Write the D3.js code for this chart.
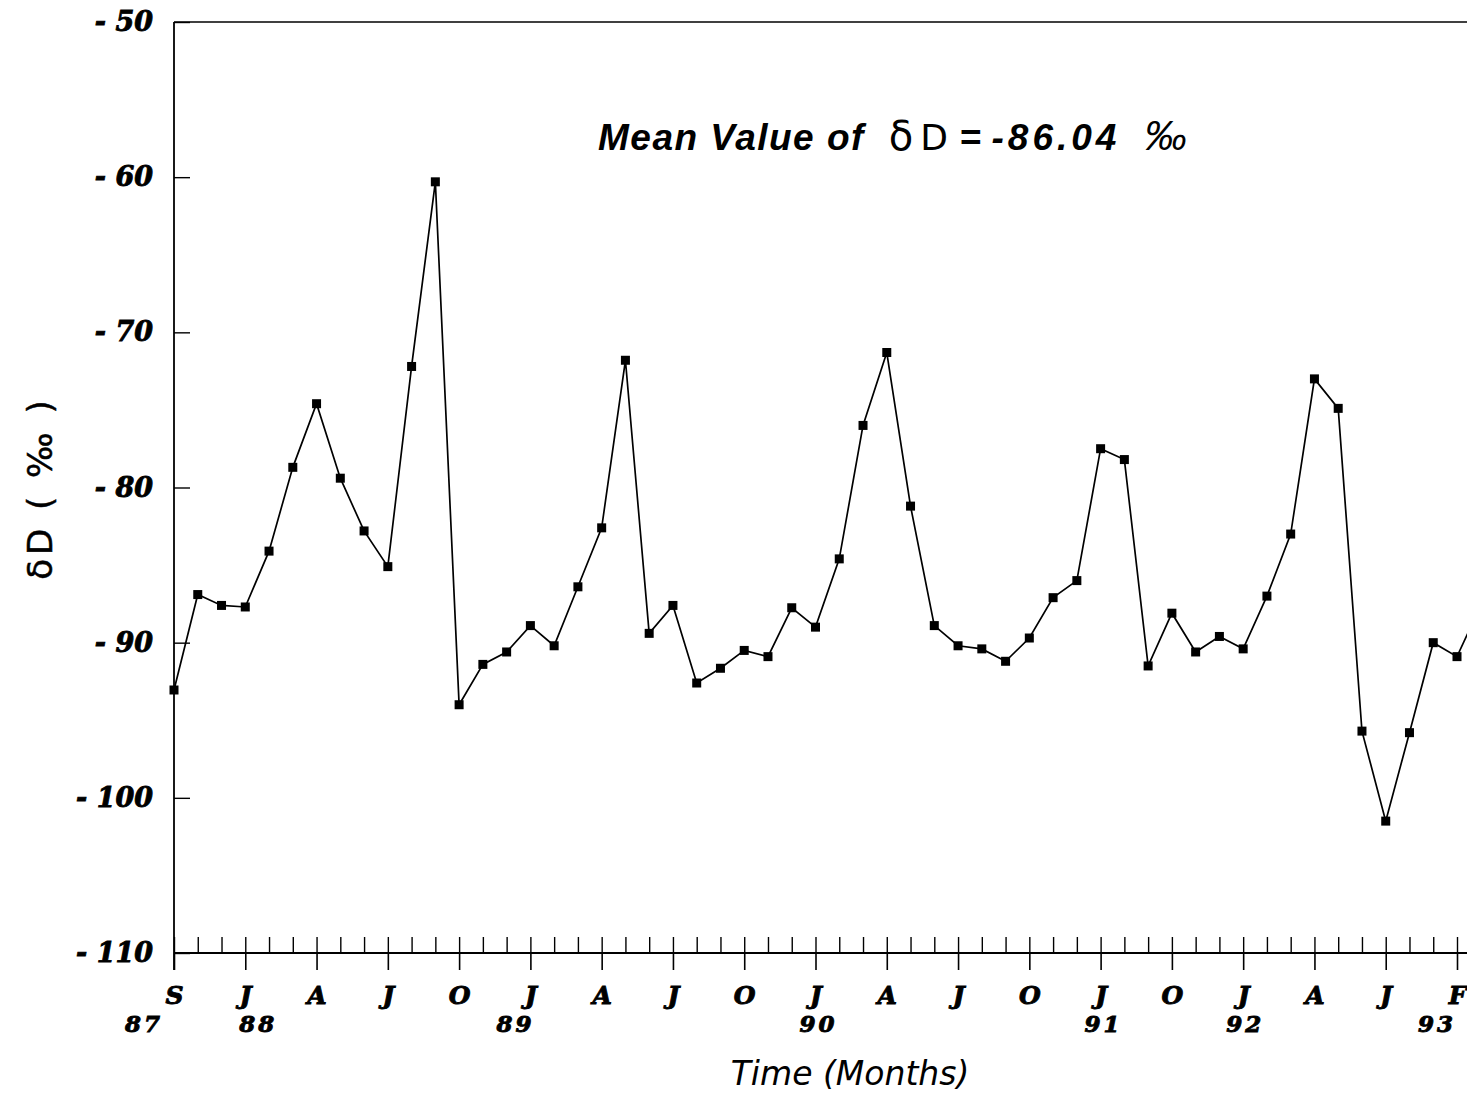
<!DOCTYPE html>
<html>
<head>
<meta charset="utf-8">
<script src="https://cdn.jsdelivr.net/npm/d3@7"></script>
<style>
  body { margin: 0; background: #fff; }
  svg { display: block; }
</style>
</head>
<body>
<svg id="chart" width="1467" height="1095"></svg>
<script>
// monthly dD values, Sep 87 .. Mar 93 (last one runs off the page)
var deltaD = [
  -93.05, -86.9, -87.6, -87.7, -84.1, -78.7, -74.6, -79.4, -82.8, -85.1,
  -72.2, -60.3, -94.0, -91.4, -90.6, -88.9, -90.2, -86.4, -82.6, -71.8,
  -89.4, -87.6, -92.6, -91.65, -90.5, -90.9, -87.75, -89.0, -84.6, -76.0,
  -71.3, -81.2, -88.9, -90.2, -90.4, -91.2, -89.7, -87.1, -86.0, -77.5,
  -78.2, -91.5, -88.1, -90.6, -89.6, -90.4, -87.0, -83.0, -73.0, -74.9,
  -95.7, -101.5, -95.8, -90.0, -90.9, -87.6
];
// labels on every third tick
var monthLabels = ["S","J","A","J","O","J","A","J","O","J","A","J","O","J","O","J","A","J","F"];
var yearLabels  = ["87","88","","","","89","","","","90","","","","91","","92","","","93"];
var yTicks = [-50, -60, -70, -80, -90, -100, -110];

var svg = d3.select("#chart");
var x0 = 174, yTop = 22, yBot = 953;

var x = d3.scaleLinear().domain([0, 54]).range([x0, 1457]);
var y = d3.scaleLinear().domain([-110, -50]).range([yBot, yTop]);

var serifBI = "'DejaVu Serif', serif";

function heavy(sel, size) {
  sel.style("font-family", serifBI).style("font-weight", "bold").style("font-style", "italic")
     .style("font-size", size + "px")
     .attr("fill", "#000").attr("stroke", "#000").attr("stroke-width", 0.9);
}

// frame: top border and left axis line
svg.append("line")
    .attr("x1", x0).attr("x2", 1467).attr("y1", yTop).attr("y2", yTop)
    .attr("stroke", "#000").attr("stroke-width", 1.6);
svg.append("line")
    .attr("x1", x0).attr("x2", x0).attr("y1", yTop).attr("y2", 970)
    .attr("stroke", "#000").attr("stroke-width", 1.8);
svg.append("line")
    .attr("x1", x0).attr("x2", 1467).attr("y1", yBot).attr("y2", yBot)
    .attr("stroke", "#000").attr("stroke-width", 1.8);

// y axis - ticks point inward
var yAxis = svg.append("g")
    .attr("transform", "translate(" + x0 + ",0)")
    .call(d3.axisLeft(y).tickValues(yTicks)
      .tickSizeInner(-16).tickSizeOuter(0).tickPadding(21)
      .tickFormat(function(d){ return "- " + Math.abs(d); }));
yAxis.select(".domain").remove();
yAxis.selectAll("line").attr("stroke-width", 1.4);
yAxis.selectAll("text").call(heavy, 27);

// x axis minor ticks (every month), inward
var idx = d3.range(0, 56);
var xMinor = svg.append("g")
    .attr("transform", "translate(0," + yBot + ")")
    .call(d3.axisBottom(x).tickValues(idx).tickSizeInner(-16).tickSizeOuter(0).tickFormat(""));
xMinor.select(".domain").remove();
xMinor.selectAll("line").attr("stroke-width", 1.4);

// major ticks with month letters
var majorIdx = d3.range(0, 55, 3);
var xMajor = svg.append("g")
    .attr("transform", "translate(0," + yBot + ")")
    .call(d3.axisBottom(x).tickValues(majorIdx).tickSizeInner(17).tickSizeOuter(0).tickPadding(16)
      .tickFormat(function(d, i){ return monthLabels[i]; }));
xMajor.select(".domain").remove();
xMajor.selectAll("line").attr("stroke-width", 1.6);
xMajor.selectAll("text").call(heavy, 25);

// year numbers under some of the letters
var yearNudge = {"87": -30, "88": 13, "89": -15, "90": 3, "91": 3, "92": 2, "93": -20};
svg.append("g").selectAll("text")
  .data(majorIdx.map(function(d, i){ return {i: d, label: yearLabels[i]}; })
    .filter(function(d){ return d.label !== ""; }))
  .enter().append("text")
    .attr("x", function(d){ return x(d.i) + yearNudge[d.label]; })
    .attr("y", 1032)
    .attr("text-anchor", "middle")
    .style("letter-spacing", "3px")
    .call(heavy, 23)
    .text(function(d){ return d.label; });

// series line + square markers
var line = d3.line()
    .x(function(d, i){ return x(i); })
    .y(function(d){ return y(d); });

svg.append("path")
    .datum(deltaD)
    .attr("d", line)
    .attr("fill", "none")
    .attr("stroke", "#000")
    .attr("stroke-width", 1.7);

svg.append("g").selectAll("rect")
  .data(deltaD)
  .enter().append("rect")
    .attr("x", function(d, i){ return x(i) - 4.5; })
    .attr("y", function(d){ return y(d) - 4.5; })
    .attr("width", 9).attr("height", 9)
    .attr("fill", "#000");

// annotation
var note = svg.append("text")
    .attr("x", 598).attr("y", 150)
    .style("font-family", "'Liberation Sans', Arial, sans-serif")
    .style("font-size", "37px");
note.append("tspan").style("font-weight", "bold").style("font-style", "italic")
    .style("letter-spacing", "1.5px").text("Mean Value of ");
note.append("tspan").attr("dx", 12).style("font-family", "'DejaVu Sans', sans-serif").style("font-size", "40px").text("δ");
note.append("tspan").attr("dx", 7).style("font-family", "'DejaVu Sans', sans-serif").style("font-size", "36px").text("D");
note.append("tspan").attr("dx", 12).style("font-weight", "bold").text("=");
note.append("tspan").attr("dx", 10).style("font-weight", "bold").style("font-style", "italic")
    .style("letter-spacing", "4px").text("-86.04");
note.append("tspan").attr("dx", 24).style("font-style", "italic").style("font-size", "42px").text("‰");

// axis titles
svg.append("text")
    .attr("x", 850).attr("y", 1085)
    .attr("text-anchor", "middle")
    .style("font-family", "'DejaVu Sans', sans-serif").style("font-style", "italic")
    .style("font-size", "33px")
    .text("Time (Months)");

svg.append("text")
    .attr("transform", "translate(52,488) rotate(-90)")
    .attr("text-anchor", "middle")
    .style("font-family", "'DejaVu Sans', sans-serif")
    .style("font-size", "34px").style("letter-spacing", "4px")
    .attr("stroke", "#000").attr("stroke-width", 0.5)
    .text("δD ( ‰ )");
</script>
</body>
</html>
